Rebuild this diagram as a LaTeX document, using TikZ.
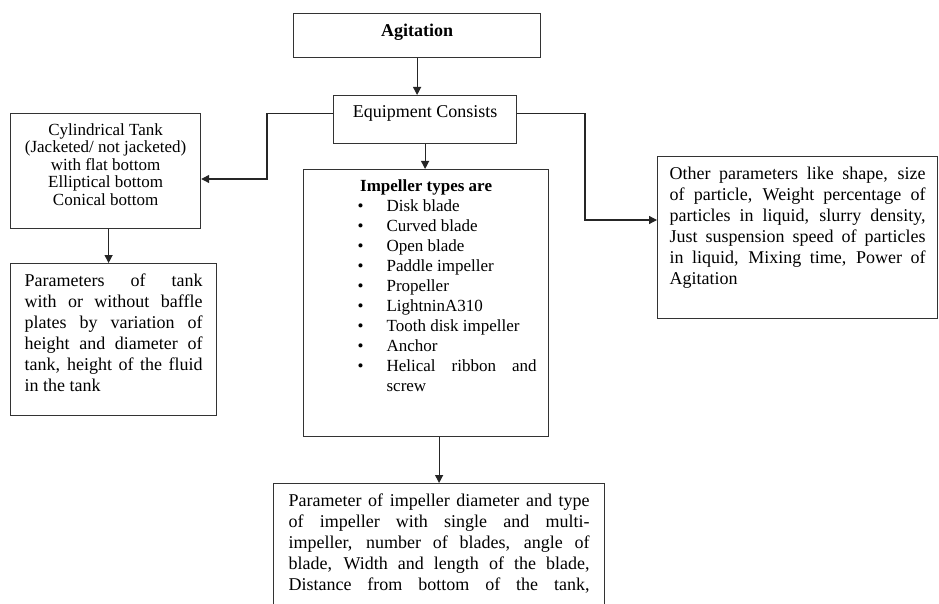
\documentclass[tikz,border=0pt]{standalone}
\usepackage{fontspec}
\setmainfont{Liberation Serif}
\usetikzlibrary{positioning, arrows.meta}

% text block of a box: width, height, text (top aligned)
\newcommand{\boxtxt}[3]{\parbox[c][#2][t]{#1}{\parfillskip=0pt plus 1fil #3}}
\newcommand{\itm}[1]{\hspace*{40pt}\makebox[29pt][l]{\textbullet}#1\par}

\begin{document}
\begin{tikzpicture}[x=1pt, y=-1pt,
	block/.style={draw=black!80, line width=1.2pt, anchor=north west,
		inner xsep=14pt, inner ysep=10pt, font=\fontsize{18}{21}\selectfont},
	arrow/.style={draw=black!85, line width=1.2pt, -{Triangle[length=8pt, width=8pt]}}]
	\useasboundingbox (0,0) rectangle (939,604);
	
	\node[block] (agit) at (293,13) {\boxtxt{219pt}{24pt}{\centering\textbf{Agitation}}};
	\node[block] (equip) at (333,95) {\boxtxt{155pt}{28pt}{\centering Equipment Consists}};
	\node[block, font=\fontsize{17}{17.5}\selectfont] (cyl) at (10,113)
		{\boxtxt{162pt}{95pt}{\centering Cylindrical Tank\\(Jacketed/ not jacketed)\\with flat bottom\\Elliptical bottom\\Conical bottom}};
	\node[block] (tankpar) at (10,263)
		{\boxtxt{178pt}{132pt}{Parameters of tank\linebreak with or without baffle\linebreak plates by variation of\linebreak height and diameter of\linebreak tank, height of the fluid\linebreak in the tank}};
	\node[block, font=\fontsize{17}{20}\selectfont] (imp) at (303,169)
		{\boxtxt{217pt}{247pt}{{\centering\textbf{Impeller types are}\par}
			\itm{Disk blade}
			\itm{Curved blade}
			\itm{Open blade}
			\itm{Paddle impeller}
			\itm{Propeller}
			\itm{LightninA310}
			\itm{Tooth disk impeller}
			\itm{Anchor}
			\itm{\parbox[t]{150pt}{Helical ribbon and\linebreak screw}}}};
	\node[block, inner xsep=12pt] (other) at (657,156)
		{\boxtxt{256pt}{142pt}{Other parameters like shape, size\linebreak of particle, Weight percentage of\linebreak particles in liquid, slurry density,\linebreak Just suspension speed of particles\linebreak in liquid, Mixing time, Power of\linebreak Agitation}};
	\node[block, inner xsep=15pt] (imppar) at (273,483)
		{\boxtxt{301pt}{180pt}{\parfillskip=0pt Parameter of impeller diameter and type\linebreak of impeller with single and multi-\linebreak impeller, number of blades, angle of\linebreak blade, Width and length of the blade,\linebreak Distance from bottom of the tank,}};
	
	\coordinate (lbend) at (267,179);
	\coordinate (rbend) at (585,220);
	
	\draw[arrow] (agit.south) -- (agit.south |- equip.north);
	\draw[arrow] ([yshift=6pt]equip.west) -| (lbend) -- (lbend -| cyl.east);
	\draw[arrow] ([yshift=6pt]equip.east) -| (rbend) -- (rbend -| other.west);
	\draw[arrow] (equip.south) -- (equip.south |- imp.north);
	\draw[arrow] ([xshift=3pt]cyl.south) -- ([xshift=3pt]cyl.south |- tankpar.north);
	\draw[arrow] ([xshift=13pt]imp.south) -- ([xshift=13pt]imp.south |- imppar.north);
\end{tikzpicture}
\end{document}
